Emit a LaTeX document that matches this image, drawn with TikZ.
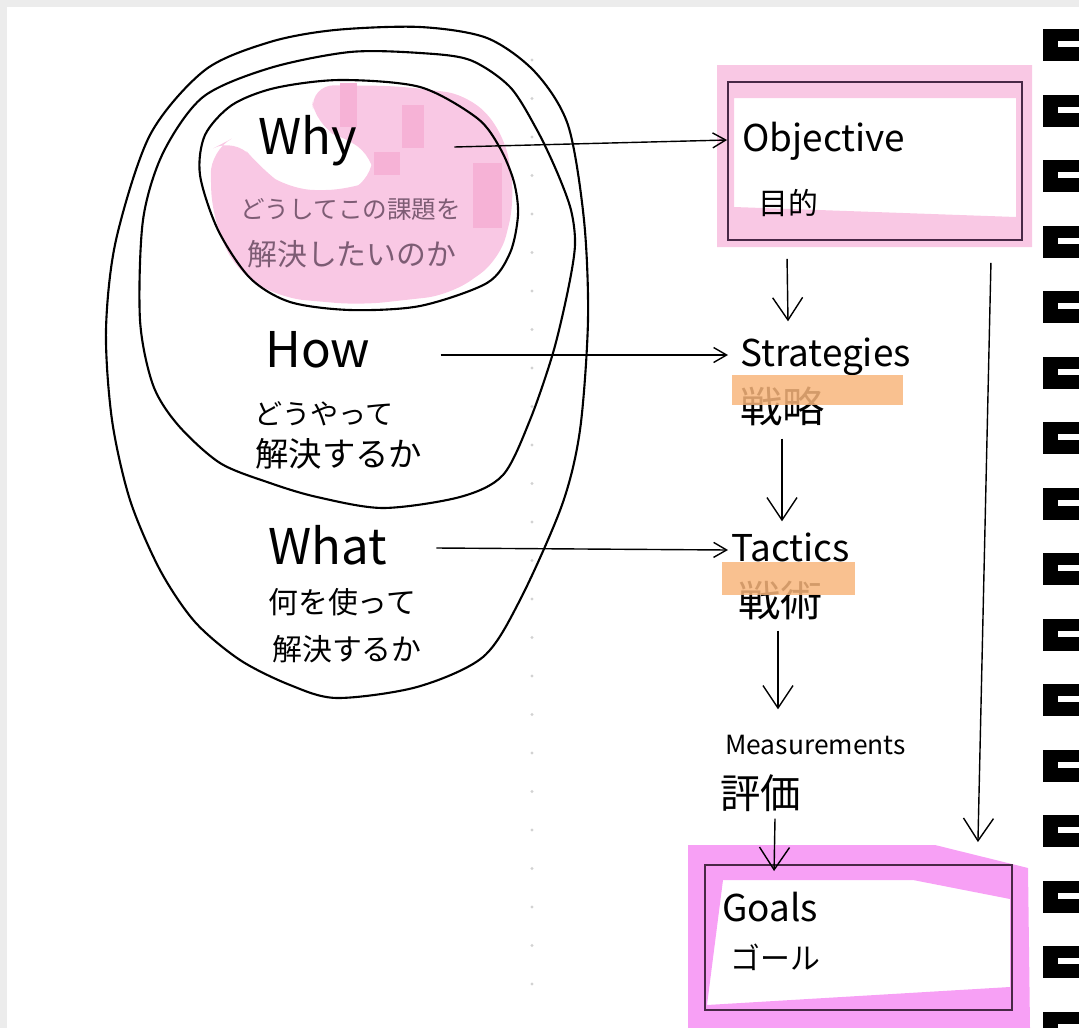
\documentclass[tikz,border=0pt]{standalone}
\usepackage{fontspec}
\setmainfont{Noto Sans CJK JP}
\usepackage{tikz}
\usetikzlibrary{arrows.meta, positioning, calc, shapes.geometric}
\definecolor{cPink}{RGB}{249,200,228}
\definecolor{cPinkDeep}{RGB}{246,178,214}
\definecolor{cMagenta}{RGB}{247,160,245}
\definecolor{cOrange}{RGB}{248,182,124}
\definecolor{cInk}{RGB}{125,92,116}
\definecolor{cBoxInk}{RGB}{72,40,70}
\definecolor{cPaper}{RGB}{236,236,236}
\tikzset{
	word/.style    ={inner sep=0pt, text height=0.75em, text depth=0.2em, anchor=west},
	bigword/.style ={word, font=\fontsize{28}{30}\selectfont},
	tagword/.style ={word, font=\fontsize{21}{24}\selectfont},
	jpword/.style  ={word, font=\fontsize{17}{20}\selectfont},
	loopline/.style={draw=black, line width=1.2pt},
	boxline/.style ={rectangle, draw=cBoxInk, line width=1.1pt, inner sep=0pt},
	flow/.style    ={-{Straight Barb[length=2.6mm, width=3mm]}, line width=0.8pt},
	drop/.style    ={-{Straight Barb[length=4.5mm, width=6mm]}, line width=0.8pt},
	% notebook paper and binding
	paper/.style   ={fill=cPaper},
	ring/.style    ={fill=black},
}
\begin{document}
\begin{tikzpicture}[x=0.02cm, y=-0.02cm]
	\useasboundingbox (0,0) rectangle (1079,1028);
	\fill[paper] (0,0) rectangle (1079,7); \fill[paper] (0,0) rectangle (7,1028);
	\foreach \k in {0,...,24} \fill[gray!35] (532,60+38.5*\k) circle (1.6);

	% why highlight
	\fill[cPink, rounded corners=14] (310,85) -- (400,86) -- (470,95) -- (505,135) -- (515,200) -- (500,260) -- (450,295) -- (360,305) -- (280,298) -- (235,270) -- (212,215) -- (210,150) -- (235,137) -- (262,170) -- (290,190) -- (350,190) -- (374,180) -- (372,150) -- (345,140) -- (315,125) -- cycle;
	\fill[cPinkDeep] (340,83) rectangle (357,127); \fill[cPinkDeep] (402,105) rectangle (424,148);
	\fill[cPinkDeep] (374,152) rectangle (400,175); \fill[cPinkDeep] (473,163) rectangle (502,228);

	% the three loops
	\draw[loopline] plot[smooth cycle] coordinates {(335,30) (420,27) (487,38) (535,72) (568,125) (584,220) (588,320) (580,430) (562,505) (520,600) (483,657) (417,687) (337,698) (290,685) (240,660) (195,622) (160,570) (130,500) (112,420) (106,330) (116,240) (150,135) (205,70) (270,42)};
	\draw[loopline] plot[smooth cycle] coordinates {(350,52) (420,53) (470,60) (510,87) (537,130) (557,172) (571,210) (575,245) (568,290) (553,353) (530,420) (503,475) (460,497) (383,508) (317,497) (270,483) (220,463) (178,425) (153,385) (140,320) (143,220) (163,153) (203,97) (270,68)};
	\draw[loopline] plot[smooth cycle] coordinates {(340,80) (420,87) (477,118) (500,148) (514,182) (518,215) (510,253) (487,283) (420,306) (350,310) (290,302) (250,278) (218,230) (200,175) (205,135) (232,105) (275,88)};

	\node[bigword] (why) at (258,150) {Why};
	\node[jpword, font=\fontsize{14}{16}\selectfont, text=cInk] (whyjpa) at (240,214) {どうしてこの課題を};
	\node[jpword, text=cInk] (whyjpb) at (247,261) {解決したいのか};
	\node[bigword] (how) at (265,363) {How};
	\node[jpword, font=\fontsize{16}{18}\selectfont] (howjpa) at (254,420) {どうやって};
	\node[jpword, font=\fontsize{19}{22}\selectfont] (howjpb) at (255,462) {解決するか};
	\node[bigword] (what) at (268,560) {What};
	\node[jpword] (whatjpa) at (268,609) {何を使って};
	\node[jpword] (whatjpb) at (272,656) {解決するか};

	\fill[cPink, even odd rule] (717,65) rectangle (1032,247) (734,98) -- (1016,98) -- (1016,217) -- (734,207) -- cycle;
	\node[boxline, minimum width=5.88cm, minimum height=3.16cm] (obj) at (875,161) {};
	\node[tagword] (objen) at (742,147) {Objective};
	\node[jpword] (objjp) at (758,210) {目的};

	\node[tagword] (strat) at (740,362) {Strategies};
	\node[jpword, font=\fontsize{24}{26}\selectfont] (stratjp) at (740,418) {戦略};
	\fill[cOrange, opacity=0.85] (732,375) rectangle (903,405);
	\node[tagword] (tact) at (731,557) {Tactics};
	\node[jpword, font=\fontsize{24}{26}\selectfont] (tactjp) at (738,612) {戦術};
	\fill[cOrange, opacity=0.85] (722,562) rectangle (855,595);
	\node[word, font=\fontsize{15}{18}\selectfont] (meas) at (725,750) {Measurements};
	\node[jpword, font=\fontsize{23}{26}\selectfont] (measjp) at (720,804) {評価};

	\fill[cMagenta, even odd rule] (688,845) -- (935,845) -- (1028,868) -- (1030,1028) -- (688,1028) -- cycle (723,880) -- (913,880) -- (1010,899) -- (1010,987) -- (707,1005) -- cycle;
	\node[boxline, minimum width=6.14cm, minimum height=2.9cm] (goal) at (858.5,937.5) {};
	\node[tagword] (goalen) at (722,917) {Goals};
	\node[jpword] (goaljp) at (730,965) {ゴール};

	\draw[flow] ($(why.east)+(97,-3)$) -- ($(obj.west)+(0,-21)$);
	\draw[flow] ($(how.east)+(70,-8)$) -- ($(strat.west)+(-12,-7)$);
	\draw[flow] ($(what.east)+(49,-12)$) -- ($(tact.west)+(-3,-7)$);
	\draw[drop] ($(obj.south west)+(60,18)$) -- ($(strat.north west)+(48,-32)$);
	\draw[drop] ($(stratjp.south west)+(42,12)$) -- ($(tact.north west)+(51,-27)$);
	\draw[drop] ($(tactjp.south west)+(40,10)$) -- ($(meas.north west)+(53,-32)$);
	\draw[drop] ($(measjp.south west)+(55,6)$) -- ($(goal.north west)+(70,7)$);
	\draw[drop] ($(obj.south east)+(-32,22)$) -- ($(goal.north east)+(-35,-22)$);

	\foreach \k in {0,...,15}{
		\pgfmathsetmacro{\ry}{45+65.5*\k}
		\fill[ring] (1043,\ry-16) rectangle (1079,\ry+16);
		\fill[white] (1058,\ry-4) rectangle (1079,\ry+2);
	}
\end{tikzpicture}
\end{document}
